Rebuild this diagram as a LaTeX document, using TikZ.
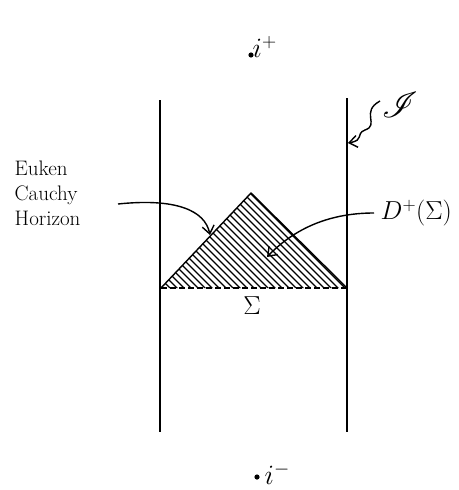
\RequirePackage{fix-cm}
\documentclass[tikz,border=0pt]{standalone}
\usepackage{amsmath, amssymb}
\usepackage{mathrsfs}
\usepackage{graphicx}
\usepackage{tikz}
\usetikzlibrary{arrows.meta}

\begin{document}
\begin{tikzpicture}[x=1pt, y=-1pt, line width=1.4pt,
    arr/.style={-{Straight Barb[length=8pt, width=12pt]}, line width=1.4pt},
    lbl/.style={inner sep=0pt}]
      \useasboundingbox (0,0) rectangle (458,490);

      % Boundary lines
      \coordinate (Lt) at (160,100);
      \coordinate (Lb) at (160,432);
      \coordinate (Rt) at (347,98);
      \coordinate (Rb) at (347,432);
      \draw (Lt) -- (Lb);
      \draw (Rt) -- (Rb);

      % Triangle with hatching
      \coordinate (A) at (161,288);
      \coordinate (B) at (347,288);
      \coordinate (C) at (251,193);
      \begin{scope}
        \clip (A) -- (C) -- (B) -- cycle;
        \foreach \s in {-120,-113,...,200}
          \draw[line width=1.2pt] (\s+140,180) -- ++(130,130);
      \end{scope}
      \draw (A) -- (C) -- (B);
      \draw[dashed, dash pattern=on 6pt off 3pt] (A) -- (B);
      \node[lbl, font=\fontsize{26}{28}\selectfont] (sig) at (252,306) {$\Sigma$};

      % Infinity points
      \fill (251,55) circle (2.6pt) coordinate (ip);
      \node[lbl, anchor=south west, font=\fontsize{28}{30}\selectfont] (iplus) at (252,58) {$i^+$};
      \fill (257,477) circle (2.6pt) coordinate (im);
      \node[lbl, anchor=west, font=\fontsize{28}{30}\selectfont] (iminus) at (264,474) {$i^-$};

      % Labels and arrows
      \node[lbl, align=left, anchor=north west, font=\fontsize{21}{25}\selectfont] (hor) at (14,160)
        {Euken\\ Cauchy\\ Horizon};
      \coordinate (hs) at (118,204);
      \coordinate (he) at (210,235);
      \draw[arr] (hs) .. controls (175,198) and (205,210) .. (he);

      \node[lbl, anchor=west, font=\fontsize{26}{28}\selectfont] (dp) at (380,213) {$D^+(\Sigma)$};
      \coordinate (ds) at (374,213);
      \coordinate (de) at (267,257);
      \draw[arr] (ds) .. controls (330,213) and (295,228) .. (de);

      \node[lbl] (scri) at (400,105) {\scalebox{3.6}{$\mathscr{I}$}};
      \coordinate (ss) at (380,101);
      \coordinate (se) at (348,143);
      \draw[arr] (ss) .. controls (360,112) and (380,125) .. (365,130)
        .. controls (355,134) and (365,140) .. (se);
    \end{tikzpicture}
\end{document}
